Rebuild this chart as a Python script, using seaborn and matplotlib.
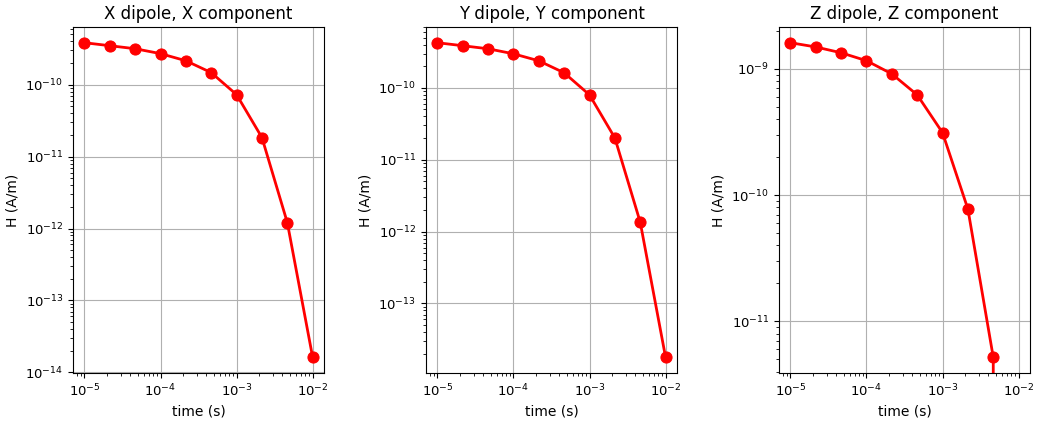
import matplotlib
matplotlib.use("Agg")
import matplotlib.pyplot as plt
import numpy as np
import pandas as pd
import seaborn as sns

# time channels (s)
times = [1.0e-5, 2.154e-5, 4.642e-5, 1.0e-4, 2.154e-4, 4.642e-4,
         1.0e-3, 2.154e-3, 4.642e-3, 1.0e-2]

# field values H (A/m)
hx_xdip = [3.83e-10, 3.48e-10, 3.16e-10, 2.70e-10, 2.15e-10, 1.47e-10,
           7.26e-11, 1.84e-11, 1.21e-12, 1.62e-14]
hy_ydip = [4.25e-10, 3.86e-10, 3.50e-10, 2.98e-10, 2.38e-10, 1.62e-10,
           7.98e-11, 2.01e-11, 1.35e-12, 1.78e-14]
# last value is negative -> drops off the log axis
hz_zdip = [1.61e-9, 1.49e-9, 1.34e-9, 1.16e-9, 9.12e-10, 6.22e-10,
           3.12e-10, 7.76e-11, 5.20e-12, -2.0e-12]

titles = ["X dipole, X component", "Y dipole, Y component", "Z dipole, Z component"]
series = [hx_xdip, hy_ydip, hz_zdip]

fig = plt.figure(figsize=(10.42, 4.23), dpi=100)
lefts = [0.0701, 0.4088, 0.7476]

for left, title, vals in zip(lefts, titles, series):
    ax = fig.add_axes([left, 0.1182, 0.2409, 0.818])
    df = pd.DataFrame({"time": times, "H": vals})
    # plot in linear space first, then switch to log (negatives get clipped like loglog)
    sns.lineplot(data=df, x="time", y="H", ax=ax, color="red", marker="o",
                 markersize=8, markeredgecolor="red", linewidth=2,
                 estimator=None, sort=False)
    ax.set_xscale("log")
    ax.set_yscale("log")
    ax.relim()
    ax.autoscale_view()
    ax.grid(True, which="major", color="#b0b0b0", linewidth=0.8)
    ax.set_title(title, fontsize=12)
    ax.set_xlabel("time (s)", fontsize=10)
    ax.set_ylabel("H (A/m)", fontsize=10)
    ax.tick_params(axis="both", which="major", labelsize=9.5)

plt.savefig("out.png", dpi=100)
plt.close(fig)
